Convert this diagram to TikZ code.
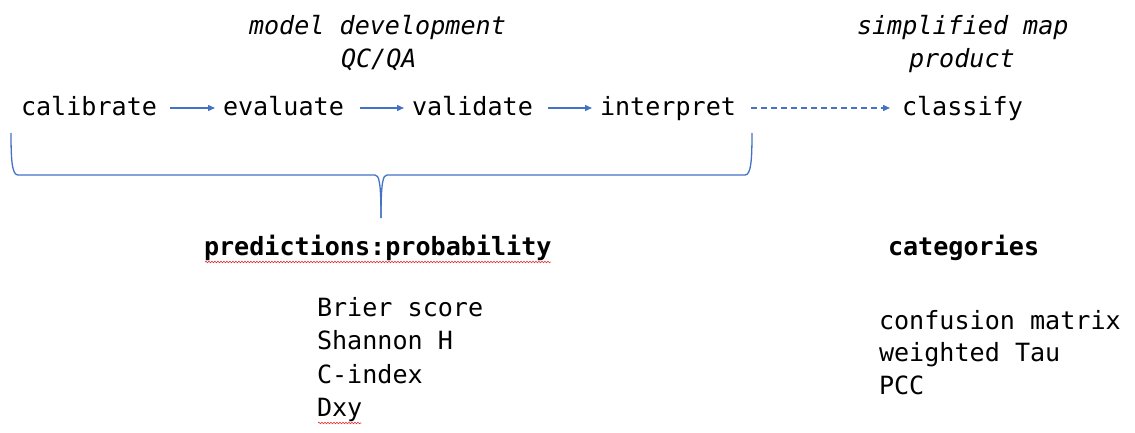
\documentclass[tikz,border=0pt]{standalone}
\usepackage{fontspec}
\newfontfamily\monofont{DejaVu Sans Mono}
\usetikzlibrary{arrows.meta,decorations.pathmorphing}
\definecolor{officeblue}{HTML}{4472C4}
\definecolor{spellred}{HTML}{E03030}
\tikzset{
  txt/.style={anchor=base west, inner sep=0pt, outer sep=0pt, font=\monofont\fontsize{25.1}{30}\selectfont},
  ttl/.style={txt, font=\monofont\itshape\fontsize{25.1}{30}\selectfont},
  hdr/.style={txt, font=\monofont\bfseries\fontsize{25.1}{30}\selectfont},
  flow/.style={draw=officeblue, line width=1.4pt, -{Triangle[length=7pt,width=6pt]}},
  flowdash/.style={flow, dash pattern=on 6pt off 4pt},
  bracepath/.style={draw=officeblue, line width=1.3pt},
  squiggle/.style={draw=spellred, line width=0.6pt, decorate, decoration={snake, amplitude=0.8pt, segment length=3pt}}
}
\begin{document}
\begin{tikzpicture}[x=1pt,y=-1pt]
\useasboundingbox (0,0) rectangle (1135,433);
% titles
\node[ttl] (t1) at (249,35) {model development};
\node[ttl] (t2) at (341,68) {QC/QA};
\node[ttl] (t3) at (857,35) {simplified map};
\node[ttl] (t4) at (909,68) {product};
% flow
\node[txt] (cal) at (21,116) {calibrate};
\node[txt] (eva) at (223,116) {evaluate};
\node[txt] (val) at (412,116) {validate};
\node[txt] (int) at (600,116) {interpret};
\node[txt] (cla) at (902,116) {classify};
\draw[flow] ([xshift=13pt,yshift=8pt]cal.base east) -- ([xshift=-8pt,yshift=8pt]eva.base west);
\draw[flow] ([xshift=16pt,yshift=8pt]eva.base east) -- ([xshift=-8pt,yshift=8pt]val.base west);
\draw[flow] ([xshift=15pt,yshift=8pt]val.base east) -- ([xshift=-8pt,yshift=8pt]int.base west);
\draw[flowdash] ([xshift=15pt,yshift=8pt]int.base east) -- ([xshift=-12pt,yshift=8pt]cla.base west);
% brace
\coordinate (bl) at (11,133);
\coordinate (br) at (752,133);
\coordinate (tip) at (381,218);
\draw[bracepath] (bl) .. controls (11,160) and (12,175) .. (18,175) -- (375,175)
  .. controls (379,175) and (381,182) .. (tip);
\draw[bracepath] (br) .. controls (752,160) and (751,175) .. (745,175) -- (387,175)
  .. controls (383,175) and (381,182) .. (tip);
% lower texts
\node[hdr] (pred) at (204,255) {predictions:probability};
\node[hdr] (cat) at (888,255) {categories};
\node[txt] (m1) at (317,316) {Brier score};
\node[txt] (m2) at (317,349) {Shannon H};
\node[txt] (m3) at (317,383) {C-index};
\node[txt] (m4) at (317,416) {Dxy};
\node[txt] (c1) at (879,329) {confusion matrix};
\node[txt] (c2) at (879,361) {weighted Tau};
\node[txt] (c3) at (879,394) {PCC};
% spell-check underlines
\draw[squiggle] ([xshift=1pt,yshift=-7pt]pred.base west) -- ([xshift=-1pt,yshift=-7pt]pred.base east);
\draw[squiggle] ([xshift=1pt,yshift=-7pt]m4.base west) -- ([xshift=-1pt,yshift=-7pt]m4.base east);
\end{tikzpicture}
\end{document}
